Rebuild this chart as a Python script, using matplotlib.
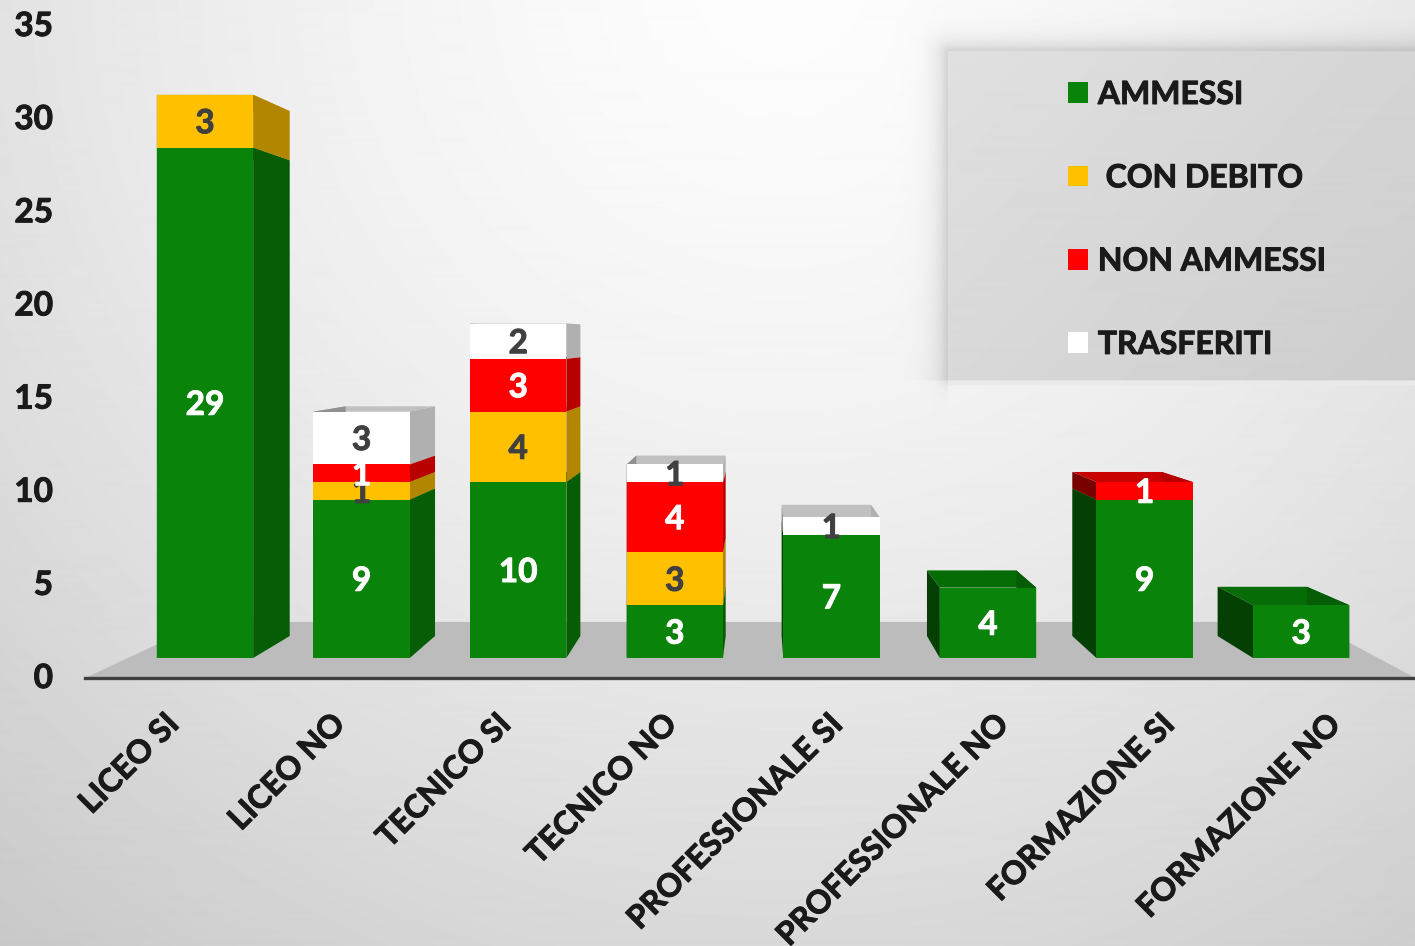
import numpy as np
import matplotlib
matplotlib.use('Agg')
import matplotlib.pyplot as plt
import matplotlib.patheffects as pe

W, H = 1415, 946

categories = ['LICEO SI', 'LICEO NO', 'TECNICO SI', 'TECNICO NO',
              'PROFESSIONALE SI', 'PROFESSIONALE NO', 'FORMAZIONE SI', 'FORMAZIONE NO']
ammessi = [29, 9, 10, 3, 7, 4, 9, 3]
con_debito = [3, 1, 4, 3, 0, 0, 0, 0]
non_ammessi = [0, 1, 3, 4, 0, 0, 1, 0]
trasferiti = [0, 3, 2, 1, 1, 0, 0, 0]

series = [
    ('AMMESSI', ammessi, '#0a830a', '#065d06', '#043f04', '#066c06', 'white'),
    (' CON DEBITO', con_debito, '#ffc000', '#b38600', '#806000', '#c89600', '#404040'),
    ('NON AMMESSI', non_ammessi, '#ff0000', '#b80000', '#7a0000', '#c80000', 'white'),
    ('TRASFERITI', trasferiti, '#ffffff', '#b0b0b0', '#909090', '#c0c0c0', '#404040'),
]
y_ticks = [0, 5, 10, 15, 20, 25, 30, 35]

plt.rcParams['font.family'] = ['Lato', 'DejaVu Sans']
plt.rcParams['font.weight'] = 'bold'

fig = plt.figure(figsize=(W / 100, H / 100), dpi=100)


def rect(x0, y_top, x1, y_bot):
    return [x0 / W, 1 - y_bot / H, (x1 - x0) / W, (y_bot - y_top) / H]


def heavier(txt, width=0.7):
    txt.set_path_effects([pe.withStroke(linewidth=width, foreground=txt.get_color())])


# background: soft radial gradient, plus the grey legend panel with its shadow
yy, xx = np.mgrid[0:H, 0:W]
r = np.hypot(xx - 780, yy + 20)
bg = 253 - 53 * (r / 1240) ** 1.5
px0, py0, py1 = 948, 52, 380
dx = np.clip(px0 - xx, 0, None)
dy_top = np.clip(py0 - yy, 0, None)
dist = np.hypot(dx, dy_top)
below = yy > py1
inside = (dist == 0) & ~below
shadow = 42 * np.exp(-dist / 11.0)
bg = np.where(~inside & ~below, bg - shadow, bg)
bg = np.where(below & (xx < px0), bg - 30 * np.exp(-np.hypot(dx, yy - py1) / 6.0), bg)
panel = 224 - 19 * np.clip((xx - px0) / 467 * 0.6 + (yy - py0) / 328 * 0.4, 0, 1)
bg = np.where(inside, panel, bg)
bg = np.where(below & (yy < py1 + 6) & (xx >= px0), 234, bg)

ax_bg = fig.add_axes([0, 0, 1, 1], zorder=0)
ax_bg.imshow(bg, cmap='gray', vmin=0, vmax=255, aspect='auto', interpolation='bilinear')
ax_bg.axis('off')

# bars live on their own scale, the 3D floor sits higher than the value axis
ax = fig.add_axes([0, 0, 1, 1], zorder=1)
ax.set_xlim(-205 / 156.6, (W - 205) / 156.6)
ax.set_ylim((658 - H) / 17.6, 658 / 17.6)
ax.axis('off')
ax.patch.set_alpha(0)

ax.fill([-0.766, 0.0, 7.06, 7.73], [-1.14, 2.05, 2.05, -1.14], color='#bcbcbc', lw=0, zorder=1)

x = np.arange(len(categories))
bar_w = 0.615
vp_x = 3.55
k = 0.072


def back_x(v):
    return v + k * (vp_x - v)


def back_y(v):
    return 1.25 + 0.932 * v


bottom = np.zeros(len(categories))
handles = []
for name, vals, front, right, left, top, txt in series:
    vals = np.array(vals, dtype=float)
    bars = ax.bar(x, vals, bar_w, bottom=bottom, color=front, lw=0, zorder=4, label=name)
    handles.append(bars[0])
    for i, v in enumerate(vals):
        if v == 0:
            continue
        b, t = bottom[i], bottom[i] + v
        xl, xr = x[i] - bar_w / 2, x[i] + bar_w / 2
        ax.fill([xr, xr, back_x(xr), back_x(xr)], [b, t, back_y(t), back_y(b)],
                color=right, lw=0, zorder=3)
        ax.fill([xl, xl, back_x(xl), back_x(xl)], [b, t, back_y(t), back_y(b)],
                color=left, lw=0, zorder=3)
        ax.fill([xl, xr, back_x(xr), back_x(xl)], [t, t, back_y(t), back_y(t)],
                color=top, lw=0, zorder=2)
        lab = ax.text(x[i], b + v / 2, str(int(v)), ha='center', va='center_baseline', color=txt,
                      fontsize=24, fontweight='bold', zorder=5)
        heavier(lab)
    bottom = bottom + vals

# value axis + rotated category labels, spaced on the front edge of the floor
ax_val = fig.add_axes(rect(85, 24, W, 678), zorder=2)
ax_val.patch.set_alpha(0)
ax_val.set_ylim(-2 / 18.63, 35)
ax_val.set_xlim((85 - 164) / 166, (W - 164) / 166)
ax_val.set_yticks(y_ticks)
ax_val.set_yticklabels([str(t) for t in y_ticks], fontsize=24, color='#1a1a1a', fontweight='bold')
ax_val.set_xticks(x)
ax_val.set_xticklabels(categories, rotation=45, ha='right', rotation_mode='anchor',
                       fontsize=23, color='#1a1a1a', fontweight='bold')
ax_val.tick_params(axis='y', length=0, pad=23)
ax_val.tick_params(axis='x', length=0, pad=22)
for lab in ax_val.get_xticklabels() + ax_val.get_yticklabels():
    heavier(lab)
for side in ['top', 'left', 'right']:
    ax_val.spines[side].set_visible(False)
ax_val.spines['bottom'].set_color('#404040')
ax_val.spines['bottom'].set_linewidth(2.4)

leg = ax_val.legend(handles, [s[0] for s in series], loc='upper left',
                    bbox_to_anchor=(1068 / W, 1 - 80 / H), bbox_transform=fig.transFigure,
                    frameon=False, fontsize=23, labelcolor='#1a1a1a',
                    handlelength=0.625, handleheight=0.625, handletextpad=0.31,
                    labelspacing=1.70, borderpad=0, borderaxespad=0)
for lab in leg.get_texts():
    heavier(lab)

fig.savefig('out.png', dpi=100)
